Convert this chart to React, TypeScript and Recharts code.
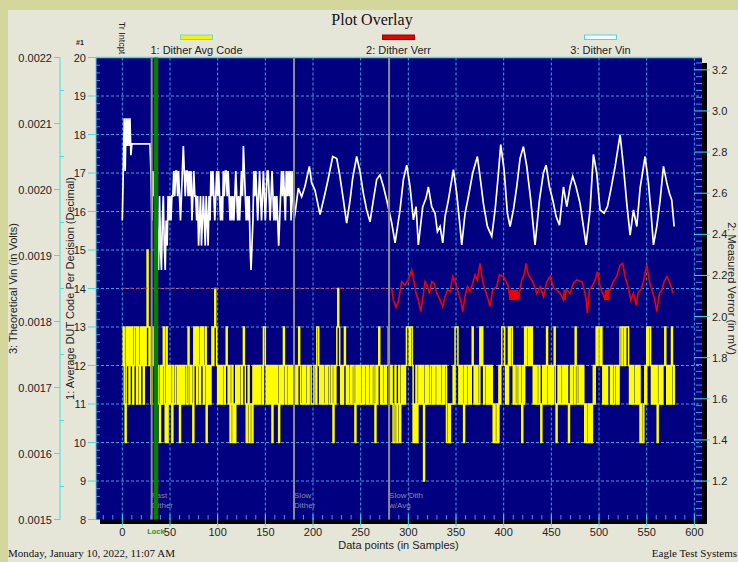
import React from "react";
import { ComposedChart, Line, XAxis, YAxis, CartesianGrid, ReferenceLine } from "recharts";

// ---- axes ----
const sampleTicks = [0, 50, 100, 150, 200, 250, 300, 350, 400, 450, 500, 550, 600];
const codeTicks = [8, 9, 10, 11, 12, 13, 14, 15, 16, 17, 18, 19, 20];
const vinTicks = [0.0015, 0.0016, 0.0017, 0.0018, 0.0019, 0.002, 0.0021, 0.0022];
const verrTicks = [1.2, 1.4, 1.6, 1.8, 2.0, 2.2, 2.4, 2.6, 2.8, 3.0, 3.2];

// ---- 1: Dither Avg Code, one digit per sample (code = 9 + digit), samples 0..580 ----
const avgCodeRows = [
  "34214342434234424324342434643424342323213234214132",
  "32132233231323233224323214342432434234132323434543",
  "23232332343231231213232332343212312213232323233244",
  "32323231323232132324323323232322323432232322323322",
  "23324432323223233223213234543232343232232332132323",
  "22323323223233213234323223233432321132123123232344",
  "43443121312323230232322332323323232232331121222324",
  "44323232132332323432323224343233232323212112132344",
  "43232434432322332321324344343432323223212323243232",
  "32342123232232323212323324322323232121121212323434",
  "43432323233323223323234434434443232322323231211232",
  "4344323232312323233432323243233",
];

// ---- 3: Dither Vin (µV) ----
const vinEarlyUv = [
  1953, 2028, 2108, 2028, 2108, 2066, 2108, 2066, 2108, 2052,
  2069, 2069, 2069, 2069, 2069, 2069, 2069, 2069, 2069, 2069,
  2069, 2069, 2069, 2069, 2069, 2069, 2069, 2069, 2069, 2069,
  2028, 1953, 2028, 1990, 2028, 1953, 1990, 1915, 1878, 1990,
  1915, 1878, 1953, 1990, 1915, 1878, 1953, 1915, 1990, 1953,
  1990, 1953, 1990, 1990, 2028, 1990, 2028, 2028, 1990, 2028,
  1990, 1953, 1990, 2028, 2066, 2028, 1990, 2028, 2028, 1990,
  2028, 1990, 2028, 1953, 1990, 2028, 1990, 1990, 1953, 1990,
  1915, 1953, 1990, 1915, 1953, 1990, 1953, 1915, 1990, 1953,
  1915, 1990, 1953, 2028, 1990, 2028, 1990, 1953, 1990, 2028,
  1990, 2028, 1990, 1953, 1990, 1953, 2028, 1990, 2028, 2028,
  1990, 2028, 1990, 1953, 1990, 1953, 1990, 1953, 1990, 2028,
  1990, 1953, 1990, 1953, 1990, 2028, 1990, 2066, 2028, 1990,
  1953, 1990, 1953, 1990, 1915, 1878, 1915, 1953, 2028, 1990,
  2028, 1990, 1953, 1990, 2028, 1990, 1953, 1990, 2028, 1990,
  1953, 1990, 2028, 2028, 1990, 1953, 1990, 2028, 1990, 1953,
  1990, 1953, 1990, 1953, 1915, 1953, 1990, 2028, 1990, 2028,
  1990, 1953, 2028, 1990, 2028, 1990, 2028, 1953, 2028, 1990,
  1953,
];
const vinWaveUv: [number, number][] = [
  [181.2, 1964], [184.6, 2002], [188.1, 1989], [191.6, 2005], [196.2, 2035], [198.6, 2010], [202.1, 1999],
  [207.4, 1962], [212.6, 1994], [216.1, 2017], [220.7, 2050], [224.9, 2047], [227.7, 2025], [231.9, 1984],
  [235.3, 1949], [238.9, 1984], [241.6, 2017], [245.8, 2050], [249.3, 2027], [252.8, 1994], [256.3, 1969],
  [259.8, 1951], [263.3, 1984], [266.8, 2015], [270.3, 2022], [273.8, 2005], [277.3, 1984], [282.6, 1949],
  [286.1, 1919], [291.3, 1969], [294.8, 2015], [298.3, 2037], [301.8, 2004], [305.3, 1954], [308.1, 1974],
  [310.5, 1916], [315.1, 1974], [318.6, 1987], [321.0, 2004], [324.5, 1974], [328.0, 1964], [330.5, 1936],
  [333.3, 1944], [336.1, 1919], [338.5, 1959], [342.0, 1984], [347.3, 2030], [350.7, 1994], [354.2, 1944],
  [356.0, 1916], [359.5, 1964], [363.0, 1989], [367.5, 2025], [372.4, 2050], [375.2, 2020], [378.7, 1979],
  [382.9, 1944], [387.5, 1929], [391.0, 1969], [394.5, 2025], [396.9, 2068], [400.4, 2030], [403.9, 1964],
  [406.7, 1944], [410.2, 1969], [413.7, 2004], [417.2, 2047], [420.7, 2065], [424.2, 2035], [428.4, 1984],
  [432.9, 1916], [437.5, 1984], [441.7, 2025], [444.5, 2037], [448.0, 2004], [451.5, 1984], [455.0, 1959],
  [458.5, 1946], [462.7, 2004], [466.2, 1974], [469.6, 2004], [472.4, 2020], [475.9, 2004], [480.1, 1979],
  [483.6, 1944], [486.4, 1916], [490.6, 1969], [494.1, 2053], [497.6, 2025], [501.1, 1969], [505.3, 1964],
  [508.8, 1974], [512.3, 1999], [516.9, 2035], [522.1, 2083], [525.6, 2035], [529.1, 1979], [532.6, 1931],
  [536.1, 1969], [539.6, 1944], [543.1, 2002], [548.3, 2050], [551.8, 2010], [554.3, 1969], [557.1, 1916],
  [560.6, 1944], [564.1, 1984], [567.6, 2035], [571.1, 2010], [573.9, 1994], [576.3, 1984], [578.8, 1944],
];

// ---- 2: Dither Verr (mV) ----
const verrHold: [number, number][] = [[0, 2.138], [282.5, 2.138]];
const verrWave: [number, number][] = [
  [282.5, 2.138], [284.3, 2.081], [286.0, 2.06], [287.1, 2.045], [288.5, 2.062], [289.5, 2.073], [291.3, 2.121],
  [293.0, 2.17], [296.5, 2.154], [300.0, 2.178], [303.5, 2.227], [306.0, 2.17], [308.1, 2.113], [310.5, 2.081],
  [313.0, 2.024], [315.8, 2.113], [317.5, 2.17], [320.0, 2.146], [322.1, 2.113], [324.5, 2.17], [327.0, 2.162],
  [329.8, 2.113], [333.3, 2.081], [336.1, 2.049], [338.5, 2.097], [341.0, 2.13], [343.8, 2.122], [346.6, 2.195],
  [349.0, 2.17], [352.5, 2.113], [354.9, 2.081], [357.0, 2.024], [359.5, 2.097], [361.9, 2.146], [364.7, 2.122],
  [367.5, 2.162], [370.0, 2.203], [372.4, 2.178], [375.2, 2.259], [378.0, 2.17], [380.5, 2.13], [382.9, 2.097],
  [385.7, 2.049], [388.5, 2.13], [392.7, 2.146], [395.5, 2.203], [399.7, 2.195], [402.5, 2.17], [405.0, 2.146],
  [406.7, 2.081], [407.5, 2.13], [408.3, 2.081], [409.2, 2.13], [410.0, 2.081], [410.9, 2.13], [411.8, 2.081],
  [412.6, 2.13], [413.5, 2.081], [414.4, 2.13], [415.4, 2.081], [418.9, 2.178], [421.4, 2.203], [423.5, 2.259],
  [425.9, 2.203], [428.4, 2.186], [431.2, 2.162], [434.7, 2.113], [438.2, 2.146], [441.7, 2.097], [445.2, 2.17],
  [448.7, 2.195], [452.2, 2.138], [455.7, 2.13], [459.2, 2.113], [462.7, 2.081], [463.5, 2.13], [464.4, 2.081],
  [465.3, 2.13], [466.2, 2.13], [469.6, 2.113], [473.1, 2.162], [476.6, 2.178], [481.9, 2.17], [483.6, 2.146],
  [486.4, 2.089], [487.8, 2.016], [489.9, 2.13], [492.4, 2.146], [495.9, 2.178], [498.3, 2.219], [500.4, 2.162],
  [502.9, 2.122], [505.3, 2.097], [506.2, 2.081], [507.0, 2.13], [507.9, 2.081], [508.8, 2.13], [509.6, 2.081],
  [510.5, 2.13], [511.6, 2.13], [515.1, 2.17], [518.6, 2.195], [522.1, 2.251], [524.9, 2.259], [527.3, 2.195],
  [530.8, 2.138], [533.3, 2.081], [536.1, 2.113], [538.9, 2.057], [541.3, 2.122], [543.8, 2.13], [546.6, 2.17],
  [550.1, 2.251], [552.9, 2.17], [555.3, 2.13], [557.8, 2.097], [560.6, 2.024], [563.4, 2.113], [565.8, 2.13],
  [568.3, 2.17], [571.1, 2.195], [574.6, 2.162], [577.4, 2.113],
];

// ---- event markers (sample index) ----
const markers = [
  { x: 30.8, lines: ["Fast", "Dither"] },
  { x: 180.1, lines: ["Slow", "Dither"] },
  { x: 279.8, lines: ["Slow Dith", "w/Avg"] },
];
const lockSample = 35.3;

const legendItems = [
  { name: "1: Dither Avg Code", fill: "#f4f400", stroke: "#70d8c8" },
  { name: "2: Dither Verr", fill: "#e80000", stroke: "#a00000" },
  { name: "3: Dither Vin", fill: "#f4fcfc", stroke: "#50d8d8" },
];

const codeData = avgCodeRows.join("").split("").map((d, i) => ({ x: i, y: 9 + Number(d) }));
const vinData = [
  ...vinEarlyUv.map((v, i) => ({ x: i, y: v / 1e6 })),
  ...vinWaveUv.map(([x, v]) => ({ x, y: v / 1e6 })),
];
const verrHoldData = verrHold.map(([x, y]) => ({ x, y }));
const verrData = verrWave.map(([x, y]) => ({ x, y }));

const CYAN = "#40e0e0";
const INNER_TICK = "#4a90e8";
const SANS = "'Liberation Sans', Arial, sans-serif";
const SERIF = "'Liberation Serif', 'Times New Roman', serif";
const TXT = "#222";

const near = (a: number, b: number) => Math.abs(a - b) < 1e-9;

const vinAll = Array.from({ length: 15 }, (_, k) => (30 + k) * 0.00005);
const codeAll = Array.from({ length: 61 }, (_, k) => 8 + k * 0.2);
const verrAll = Array.from({ length: 67 }, (_, k) => 1.2 + (k - 5) * (0.2 / 6)).filter((v) => v > 1.02 && v < 3.25);
const sampleAll = Array.from({ length: 63 }, (_, k) => -20 + k * 10);

function VinTick({ x, y, payload }: any) {
  const v = payload.value;
  const major = vinTicks.some((t) => near(t, v));
  if (!major) return <line x1={x} x2={x + 4} y1={y} y2={y} stroke={CYAN} />;
  return (
    <g>
      <line x1={x - 6} x2={x} y1={y} y2={y} stroke={CYAN} />
      <text x={x - 8} y={y} textAnchor="end" dominantBaseline="central" fontFamily={SANS} fontSize={11} fill={TXT}>
        {v.toFixed(4)}
      </text>
    </g>
  );
}

function CodeTick({ x, y, payload }: any) {
  const v = payload.value;
  const major = codeTicks.some((t) => near(t, v));
  if (!major) return <line x1={x} x2={x + 4} y1={y} y2={y} stroke={INNER_TICK} />;
  return (
    <g>
      <line x1={x - 8} x2={x} y1={y} y2={y} stroke={CYAN} />
      <text x={x - 10} y={y} textAnchor="end" dominantBaseline="central" fontFamily={SANS} fontSize={11} fill={TXT}>
        {Math.round(v)}
      </text>
    </g>
  );
}

function VerrTick({ x, y, payload }: any) {
  const v = payload.value;
  const major = verrTicks.some((t) => Math.abs(t - v) < 1e-6);
  if (!major) return <line x1={x - 6} x2={x} y1={y} y2={y} stroke={INNER_TICK} />;
  return (
    <g>
      <line x1={x - 8} x2={x + 8} y1={y} y2={y} stroke={CYAN} />
      <text x={x + 10} y={y} textAnchor="start" dominantBaseline="central" fontFamily={SANS} fontSize={11} fill={TXT}>
        {v.toFixed(1)}
      </text>
    </g>
  );
}

function SampleTick({ x, y, payload }: any) {
  const v = payload.value;
  const major = sampleTicks.includes(v);
  if (!major) return <line x1={x} x2={x} y1={y - 4.5} y2={y} stroke={INNER_TICK} />;
  return (
    <g>
      <line x1={x} x2={x} y1={y - 5} y2={y + 7} stroke={CYAN} />
      <text x={x} y={y + 12.5} textAnchor="middle" dominantBaseline="central" fontFamily={SANS} fontSize={11} fill={TXT}>
        {v}
      </text>
    </g>
  );
}

function markerLabel(lines: string[]) {
  return (p: any) => {
    const vb = p.viewBox || {};
    const bottom = vb.y + vb.height;
    return (
      <g>
        {lines.map((t, i) => (
          <text key={i} x={vb.x} y={bottom - 24 + i * 9.5} dominantBaseline="central" fontFamily={SANS} fontSize={8} fill="#8a8aa6">
            {t}
          </text>
        ))}
      </g>
    );
  };
}

function lockLabel(p: any) {
  const vb = p.viewBox || {};
  return (
    <text x={vb.x} y={vb.y + vb.height + 11.5} textAnchor="middle" dominantBaseline="central" fontFamily={SANS} fontSize={7.5} fontWeight="bold" fill="#1a9a1a">
      Lock
    </text>
  );
}

function trLabel(p: any) {
  const vb = p.viewBox || {};
  const cx = vb.x;
  const cy = vb.y - 19.5;
  return (
    <text x={cx} y={cy} transform={`rotate(90 ${cx} ${cy})`} textAnchor="middle" dominantBaseline="central" fontFamily={SANS} fontSize={9} fill={TXT}>
      Tr Intcpt
    </text>
  );
}

export default function App() {
  return (
    <div style={{ position: "fixed", left: 0, top: 0, width: 738, height: 562, background: "#d3d79c", overflow: "hidden" }}>
      <div style={{ position: "absolute", left: 8, top: 10, right: 0, bottom: 0, background: "#e6e6d8" }} />
      <div style={{ position: "absolute", left: 702, top: 63, width: 5, height: 461, background: "#000" }} />
      <div style={{ position: "absolute", left: 100, top: 519, width: 607, height: 5, background: "#000" }} />
      <div style={{ position: "absolute", left: 0, top: 0 }}>
        <ComposedChart width={738} height={562} margin={{ top: 57.5, right: 0, bottom: 0, left: 0 }}>
          <CartesianGrid
            yAxisId="code"
            fill="#000080"
            fillOpacity={1}
            stroke="#3f9fe6"
            strokeDasharray="3 2"
            horizontalValues={codeTicks.slice(1, -1)}
            verticalValues={sampleTicks}
          />
          <XAxis
            type="number"
            dataKey="x"
            domain={[-27.6, 608]}
            allowDataOverflow
            ticks={sampleAll}
            interval={0}
            height={42.5}
            tickSize={0}
            tickMargin={0}
            tickLine={false}
            axisLine={false}
            tick={SampleTick}
          />
          <YAxis
            yAxisId="code"
            orientation="left"
            width={36}
            type="number"
            domain={[8, 20]}
            allowDataOverflow
            ticks={codeAll}
            interval={0}
            tickSize={0}
            tickMargin={0}
            tickLine={false}
            axisLine={{ stroke: CYAN }}
            tick={CodeTick}
          />
          <YAxis
            yAxisId="vin"
            orientation="left"
            width={60}
            type="number"
            domain={[0.0015, 0.0022]}
            allowDataOverflow
            ticks={vinAll}
            interval={0}
            tickSize={0}
            tickMargin={0}
            tickLine={false}
            axisLine={{ stroke: CYAN }}
            tick={VinTick}
          />
          <YAxis
            yAxisId="verr"
            orientation="right"
            width={36}
            type="number"
            domain={[1.013, 3.26]}
            allowDataOverflow
            ticks={verrAll}
            interval={0}
            tickSize={0}
            tickMargin={0}
            tickLine={false}
            axisLine={false}
            tick={VerrTick}
          />
          <ReferenceLine yAxisId="code" y={20} stroke={CYAN} strokeWidth={1.5} />
          <Line
            yAxisId="code"
            data={codeData}
            dataKey="y"
            type="stepAfter"
            stroke="#ffff00"
            strokeWidth={1.5}
            dot={false}
            isAnimationActive={false}
          />
          <Line
            yAxisId="verr"
            data={verrHoldData}
            dataKey="y"
            type="linear"
            stroke="#e02020"
            strokeWidth={1}
            strokeDasharray="4 3"
            dot={false}
            isAnimationActive={false}
          />
          <Line
            yAxisId="verr"
            data={verrData}
            dataKey="y"
            type="linear"
            stroke="#f00000"
            strokeWidth={1.6}
            dot={false}
            isAnimationActive={false}
          />
          <Line
            yAxisId="vin"
            data={vinData}
            dataKey="y"
            type="linear"
            stroke="#ffffff"
            strokeWidth={1.7}
            dot={false}
            isAnimationActive={false}
          />
          <ReferenceLine yAxisId="code" x={0} stroke="none" label={trLabel} />
          {markers.map((m) => (
            <ReferenceLine key={m.x} yAxisId="code" x={m.x} stroke="#8c8c8c" strokeWidth={2} label={markerLabel(m.lines)} />
          ))}
          <ReferenceLine yAxisId="code" x={lockSample} stroke="#008000" strokeWidth={4.5} label={lockLabel} />
        </ComposedChart>
      </div>
      <svg width={738} height={562} style={{ position: "absolute", left: 0, top: 0, pointerEvents: "none" }}>
        <text x={372} y={19} textAnchor="middle" dominantBaseline="central" fontFamily={SERIF} fontSize={16} fill="#111">
          Plot Overlay
        </text>
        <text x={80} y={42} textAnchor="middle" dominantBaseline="central" fontFamily={SANS} fontSize={7} fontWeight="bold" fill="#222">
          #1
        </text>
        {legendItems.map((it, i) => {
          const cx = 196.5 + i * 202;
          return (
            <g key={it.name}>
              <rect x={cx - 16} y={35} width={32} height={4.5} fill={it.fill} stroke={it.stroke} strokeWidth={1} />
              <text x={cx} y={50} textAnchor="middle" dominantBaseline="central" fontFamily={SANS} fontSize={11} fill={TXT}>
                {it.name}
              </text>
            </g>
          );
        })}
        <text x={13} y={288.5} transform="rotate(-90 13 288.5)" textAnchor="middle" dominantBaseline="central" fontFamily={SANS} fontSize={11} fill={TXT}>
          3: Theoretical Vin (in Volts)
        </text>
        <text x={70} y={288.5} transform="rotate(-90 70 288.5)" textAnchor="middle" dominantBaseline="central" fontFamily={SANS} fontSize={11} fill={TXT}>
          1: Average DUT Code Per Decision (Decimal)
        </text>
        <text x={732} y={288.5} transform="rotate(90 732 288.5)" textAnchor="middle" dominantBaseline="central" fontFamily={SANS} fontSize={11} fill={TXT}>
          2: Measured Verror (in mV)
        </text>
        <text x={398.5} y={544.5} textAnchor="middle" dominantBaseline="central" fontFamily={SANS} fontSize={11} fill={TXT}>
          Data points (in Samples)
        </text>
        <text x={8} y={557} fontFamily={SERIF} fontSize={11} fill="#111">
          Monday, January 10, 2022, 11:07 AM
        </text>
        <text x={737} y={557} textAnchor="end" fontFamily={SERIF} fontSize={11} fill="#111">
          Eagle Test Systems
        </text>
      </svg>
    </div>
  );
}
